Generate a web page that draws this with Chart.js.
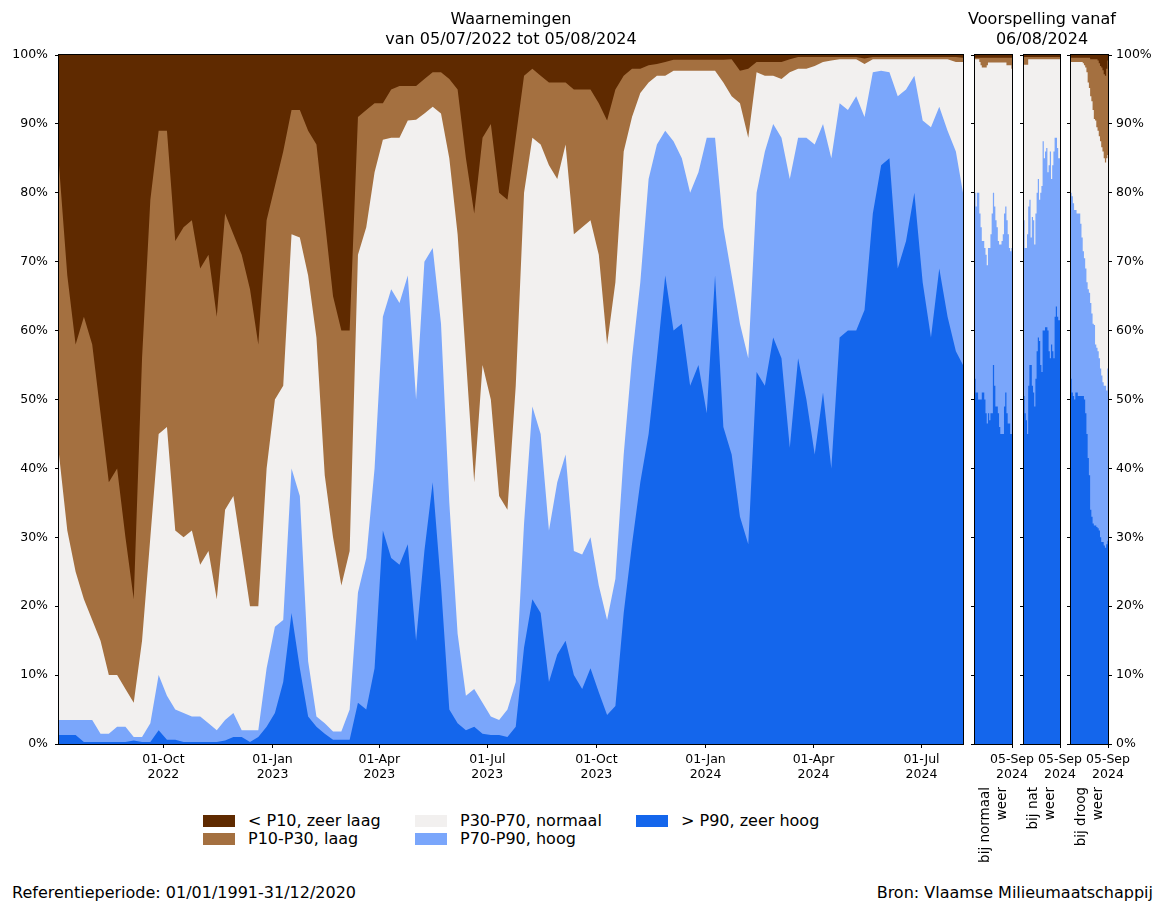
<!DOCTYPE html>
<html>
<head>
<meta charset="utf-8">
<script src="https://cdn.jsdelivr.net/npm/chart.js@4.4.1/dist/chart.umd.min.js"></script>
<style>
  body { margin: 0; background: #fff; font-family: 'DejaVu Sans', sans-serif; }
  #wrap { position: relative; width: 1163px; height: 905px; overflow: hidden; }
  canvas { position: absolute; top: 0; }
  .patch { position: absolute; width: 32px; height: 12px; }
  .txt { position: absolute; font-size: 16px; line-height: 20px; white-space: nowrap; color: #000; }
</style>
</head>
<body>
<div id="wrap">
  <canvas id="main" width="975" height="800" style="left:0px"></canvas>
  <canvas id="fc1" width="100" height="880" style="left:945px"></canvas>
  <canvas id="fc2" width="156" height="880" style="left:964px"></canvas>
  <canvas id="fc3" width="123" height="880" style="left:1040px"></canvas>
</div>
<script>
// observations, day 0 = 05/07/2022, one reading per week (last one = 05/08/2024)
const sampleDay = [0,7,14,21,28,35,42,49,56,63,70,77,84,91,98,105,112,119,126,133,
  140,147,154,161,168,175,182,189,196,203,210,217,224,231,238,245,252,259,266,273,
  280,287,294,301,308,315,322,329,336,343,350,357,364,371,378,385,392,399,406,413,
  420,427,434,441,448,455,462,469,476,483,490,497,504,511,518,525,532,539,546,553,
  560,567,574,581,588,595,602,609,616,623,630,637,644,651,658,665,672,679,686,693,
  700,707,714,721,728,735,742,749,756,762];

// upper edge of each class, cumulative % of the measuring points
const p90Top = [1.3,1.3,1.3,0.3,0.3,0.3,0.3,0.3,0.3,0.5,
  0.3,0.3,2,0.6,0.6,0.3,0.3,0.3,0.3,0.3,
  0.5,1,1,0.3,1,2.5,4.5,9,19,11,
  4,2.5,1.5,0.6,0.6,0.6,6,5,11,31,
  27,26,29,15,28,38,23,5,3,2,
  2.5,1.5,1.3,1.3,1,2.5,14,21,19,9,
  13,15,10,8,11,7.5,4.2,5.5,19,29,
  38,45,56,68,60,61,52,55,48,68,
  46,42,33,29,54,52,59,56,43,56,
  50,42,51,40,59,60,60,63,77,84,
  85,69,73,80,67,59,69,62,57,55];
const p70Top = [3.5,3.5,3.5,3.5,3.5,1.5,1.5,2.5,2.5,1,
  1,3,10,7,5,4.5,4,4,3,2,
  3.5,4.5,2,2,2,11,17,18,40,36,
  12,4,3,1.8,1.8,5,22,27,40,62,
  66,64,68,50,70,72,61,35,16,7,
  8,6,4,3.5,5,9,32,49,45,31,
  38,42,28,27.5,30,23,18,24,42,56,
  67,82,87,89,87.5,85,80,83,88,88,
  75,68,61,56,80,86,90,88,82,88,
  88,87,90,85,93,92,94,91,97.5,97.7,
  97.5,94,95,97,90.5,89.5,92.5,89,86,80];
const p30Top = [42,31,25,21,18,15,10,10,8,6,
  15,30,45,46,31,30,31,26,28,21,
  34,36,28,20,20,40,50,52,74,73.5,
  68,59,39,30,23,28,71,75,83,87.7,
  88,88,90.5,90.6,91.5,92.5,91.5,85,74,56,
  38,55,50,36,34,52,80,88,87,84,
  82,87,74,75,76,71,58,67,86,91,
  94.5,96,97,97,97.7,97.7,97.7,97.7,97.7,97.7,
  96,94,93,88,97.5,97,97,96.5,97.5,98,
  98,98.4,99,99.2,99.4,99.4,99.4,98.7,99.4,99.4,
  99.4,99.4,99.4,99.4,99.4,99.4,99.4,99.4,99,99];
const p10Top = [84,68,58,62,58,48,38,40,30,21,
  56,79,89,89,73,75,76,69,71,62,
  77,74,71,66,58,76,81,86,92,92,
  89,87,76,65,60,60,91,92,93,93,
  95,95.5,95.5,95.5,96.5,97.5,97.5,96.5,95,85,
  77,88,90,80,79,88,97,98,97,96,
  96,96,95,95,95,93,90.5,95,97,98,
  98,98.5,98.7,99,99.3,99.3,99.3,99.3,99.3,99.3,
  99.3,99.4,97.7,98,99,99,99,99,99.4,99.7,
  99.7,99.7,99.7,99.7,99.7,99.7,99.7,99.5,99.7,99.7,
  99.7,99.7,99.7,99.7,99.7,99.7,99.7,99.7,99.7,99.6];

const tickDay = [88, 180, 270, 361, 453, 545, 636, 727];
const tickText = [['01-Oct','2022'], ['01-Jan','2023'], ['01-Apr','2023'], ['01-Jul','2023'],
  ['01-Oct','2023'], ['01-Jan','2024'], ['01-Apr','2024'], ['01-Jul','2024']];

// forecasts, day 0 = 06/08/2024
const fcDay = [0,1,2,3,4,5,6,7,8,9,10,11,12,13,14,15,16,17,18,19,20,21,22,23,24,25,26,27,28,29,30];
const fcTickText = ['05-Sep', '2024'];

const normaalP90 = [53,51,51,50,50,50,51,51,50,48,46.5,48,47,48,48,55,52,49,49,48,46,45,45,45,49,51,48,46.5,46.5,45,45];
const normaalP70 = [80,78,80,80,77,75,73,73,72,71,69.5,72,72,74,77,80,78,76,75,73,72.5,72.5,73,74,77,78,76,74,72,71.5,72];
const normaalP30 = [99.4,99.4,99.4,99.4,99,98.5,98.2,98.2,98.2,98.2,98.5,98.9,98.9,98.9,98.9,98.9,98.9,98.9,98.9,98.9,98.9,98.9,98.9,98.9,98.9,98.9,98.5,98.5,98.5,98.5,98];
const normaalP10 = [99.6,99.6,99.6,99.6,99.6,99.6,99.6,99.6,99.6,99.6,99.6,99.6,99.6,99.6,99.6,99.6,99.6,99.6,99.6,99.6,99.6,99.6,99.6,99.6,99.6,99.6,99.6,99.6,99.6,99.6,99.6];

const natP90 = [50.5,48,47,45,52,55,55,52,51,49,53,57,59,58.5,55,54,60,60,60.5,60.5,60,57,56,58,57,56,62,63.5,62,61.5,61.5];
const natP70 = [76,72,72,74,78,79,73.5,76.5,76,72.5,77,80,82,79,80,81,87.5,85,86,86.5,83,84,86,82,84,86,88,88,86.5,85,85];
const natP30 = [98.6,98.6,98.6,98.6,99.4,99.4,99.4,99.4,99.4,99.4,99.4,99.4,99.4,99.4,99.4,99.4,99.4,99.4,99.4,99.4,99.4,99.4,99.4,99.4,99.4,99.4,99.4,99.4,99.4,99.4,99.4];
const natP10 = [99.7,99.7,99.7,99.7,99.7,99.7,99.7,99.7,99.7,99.7,99.7,99.7,99.7,99.7,99.7,99.7,99.7,99.7,99.7,99.7,99.7,99.7,99.7,99.7,99.7,99.7,99.7,99.7,99.7,99.7,99.7];

const droogP90 = [53,51,50.5,50,51,51,50.5,50.5,50.5,50.5,50.5,50,48,45,41.5,39,34,33,32,31.7,31.7,31.5,31.3,31,30,29.3,29.3,28.8,28.5,29,29.5];
const droogP70 = [80,79.5,78.5,77.5,77.5,77,77,77,75.5,73.5,71.5,70.5,69,67,66,65.5,64,62.5,61,60.8,58,57.5,57,56,54.5,53.5,52.5,52,52,51.3,54.5];
const droogP30 = [99,99,99,99,99,99,99,99,99,99,98.8,98.5,98.2,97.5,96,95.2,94,93.3,92,90.7,90.5,89.5,89,88.2,87.5,86.6,86,85,84.4,85,85.5];
const droogP10 = [99.6,99.6,99.6,99.6,99.6,99.6,99.6,99.6,99.6,99.6,99.6,99.6,99.6,99.6,99.6,99.6,99.4,99.4,99.4,99.4,99.4,99.4,99.2,98.8,98.4,98.2,97.8,97.2,97,98,99.2];

const legendNames = ['< P10, zeer laag', 'P10-P30, laag', 'P30-P70, normaal', 'P70-P90, hoog', '> P90, zeer hoog'];
const classColors = ['#5f2a00', '#a47040', '#f2f0ef', '#7aa6fb', '#1466ec'];

const gridCol = 'rgba(200,200,200,0.4)';
const tickFont = { family: "'DejaVu Sans', sans-serif", size: 12.5 };
Chart.defaults.font.family = "'DejaVu Sans', sans-serif";
Chart.defaults.color = '#000';

// tops: [p90, p70, p30, p10]; every band is filled down to 0, first one ends on top
function bands(days, tops, stepped) {
  const cols = [classColors[4], classColors[3], classColors[2], classColors[1]];
  return tops.map((arr, k) => ({
    data: days.map((d, i) => ({ x: d, y: arr[i] })),
    fill: 'origin',
    backgroundColor: cols[k],
    borderColor: 'transparent',
    borderWidth: 0,
    pointRadius: 0,
    stepped: stepped,
    yAxisID: 'y'
  }));
}

// dark brown under everything (< P10) and the black frame round the plot
const framePlugin = {
  id: 'frame',
  beforeDatasetsDraw(chart) {
    const a = chart.chartArea, ctx = chart.ctx;
    ctx.save();
    ctx.fillStyle = classColors[0];
    ctx.fillRect(a.left, a.top, a.right - a.left, a.bottom - a.top);
    ctx.restore();
  },
  afterDraw(chart) {
    const a = chart.chartArea, ctx = chart.ctx;
    ctx.save();
    ctx.strokeStyle = '#000';
    ctx.lineWidth = 1;
    ctx.strokeRect(Math.round(a.left) - 0.5, Math.round(a.top) - 0.5,
      Math.round(a.right - a.left) + 1, Math.round(a.bottom - a.top) + 1);
    ctx.restore();
  }
};

function sideLabel(lines) {
  return {
    id: 'sideLabel',
    afterDraw(chart) {
      const a = chart.chartArea, ctx = chart.ctx;
      const mid = (a.left + a.right) / 2;
      ctx.save();
      ctx.font = "13.5px 'DejaVu Sans', sans-serif";
      ctx.fillStyle = '#000';
      ctx.textAlign = 'right';
      ctx.textBaseline = 'middle';
      lines.forEach((t, i) => {
        ctx.save();
        ctx.translate(mid + (i - 0.5) * 17, 787);
        ctx.rotate(-Math.PI / 2);
        ctx.fillText(t, 0, 0);
        ctx.restore();
      });
      ctx.restore();
    }
  };
}

const gridOpts = { color: gridCol, tickColor: '#000', tickLength: 4 };

// main chart - observations
new Chart(document.getElementById('main'), {
  type: 'line',
  data: { datasets: bands(sampleDay, [p90Top, p70Top, p30Top, p10Top], false) },
  options: {
    responsive: false,
    animation: false,
    events: [],
    layout: { padding: { left: 0, right: 12, top: 0, bottom: 0 } },
    plugins: {
      legend: { display: false },
      tooltip: { enabled: false },
      title: {
        display: true,
        fullSize: false,
        text: ['Waarnemingen', 'van 05/07/2022 tot 05/08/2024'],
        color: '#000',
        font: { size: 16, weight: 'normal', lineHeight: 1.3 },
        padding: { top: 9, bottom: 4.4 }
      }
    },
    scales: {
      x: {
        type: 'linear', min: 0, max: 762, z: 1,
        afterBuildTicks: s => { s.ticks = tickDay.map(v => ({ value: v })); },
        afterFit: s => { s.height = 56; },
        grid: gridOpts,
        border: { display: false },
        ticks: { autoSkip: false, maxRotation: 0, padding: 4, font: tickFont, callback: (v, i) => tickText[i] }
      },
      y: {
        min: 0, max: 100, z: 1,
        afterFit: s => { s.width = 59; },
        grid: gridOpts,
        border: { display: false },
        ticks: { stepSize: 10, padding: 7, font: tickFont, callback: v => v + '%' }
      }
    }
  },
  plugins: [framePlugin]
});

// forecast panels
function forecast(id, tops, lines, cfg) {
  const scales = {
    x: {
      type: 'linear', min: 0, max: 30, z: 1,
      afterBuildTicks: s => { s.ticks = [{ value: 30 }]; },
      afterFit: s => { s.height = 880 - 744; },
      grid: gridOpts,
      border: { display: false },
      ticks: { autoSkip: false, maxRotation: 0, padding: 4, font: tickFont, callback: () => fcTickText }
    },
    y: {
      min: 0, max: 100, z: 1,
      afterFit: s => { s.width = cfg.leftW; },
      grid: gridOpts,
      border: { display: false },
      ticks: { display: false, stepSize: 10 }
    }
  };
  if (cfg.rightLabels) {
    scales.yR = {
      position: 'right', min: 0, max: 100, z: 1,
      afterFit: s => { s.width = cfg.rightW; },
      grid: { drawOnChartArea: false, tickColor: '#000', tickLength: 4 },
      border: { display: false },
      ticks: { stepSize: 10, padding: 4, font: tickFont, callback: v => v + '%' }
    };
  } else if (cfg.rightW) {
    scales.yR = {
      position: 'right', min: 0, max: 100,
      afterFit: s => { s.width = cfg.rightW; },
      grid: { display: false },
      border: { display: false },
      ticks: { display: false }
    };
  }
  new Chart(document.getElementById(id), {
    type: 'line',
    data: { datasets: bands(fcDay, tops, 'middle') },
    options: {
      responsive: false,
      animation: false,
      events: [],
      layout: { padding: cfg.padding },
      plugins: {
        legend: { display: false },
        tooltip: { enabled: false },
        title: cfg.title ? {
          display: true,
          text: cfg.title,
          color: '#000',
          font: { size: 16, weight: 'normal', lineHeight: 1.3 },
          padding: { top: 9, bottom: 4.4 }
        } : { display: false }
      },
      scales: scales
    },
    plugins: [framePlugin, sideLabel(lines)]
  });
}

forecast('fc1', [normaalP90, normaalP70, normaalP30, normaalP10], ['bij normaal', 'weer'],
  { padding: { left: 20, right: 33, top: 55, bottom: 0 }, leftW: 10 });
forecast('fc2', [natP90, natP70, natP30, natP10], ['bij nat', 'weer'],
  { padding: { left: 0, right: 0, top: 0, bottom: 0 }, leftW: 60, rightW: 60,
    title: ['Voorspelling vanaf', '06/08/2024'] });
forecast('fc3', [droogP90, droogP70, droogP30, droogP10], ['bij droog', 'weer'],
  { padding: { left: 21, right: 0, top: 55, bottom: 0 }, leftW: 10, rightW: 55, rightLabels: true });

// legend, three columns filled top to bottom
const wrap = document.getElementById('wrap');
const legCols = [203, 415, 636];
const legRows = [821, 838.5];
legendNames.forEach((name, i) => {
  const col = Math.floor(i / 2), row = i % 2;
  const p = document.createElement('div');
  p.className = 'patch';
  p.style.left = legCols[col] + 'px';
  p.style.top = (legRows[row] - 6) + 'px';
  p.style.background = classColors[i];
  wrap.appendChild(p);
  const t = document.createElement('div');
  t.className = 'txt';
  t.style.left = (legCols[col] + 45) + 'px';
  t.style.top = (legRows[row] - 10) + 'px';
  t.textContent = name;
  wrap.appendChild(t);
});

const ref = document.createElement('div');
ref.className = 'txt';
ref.style.left = '12px';
ref.style.top = '883px';
ref.textContent = 'Referentieperiode: 01/01/1991-31/12/2020';
wrap.appendChild(ref);

const src = document.createElement('div');
src.className = 'txt';
src.style.right = '10px';
src.style.top = '883px';
src.textContent = 'Bron: Vlaamse Milieumaatschappij';
wrap.appendChild(src);
</script>
</body>
</html>
